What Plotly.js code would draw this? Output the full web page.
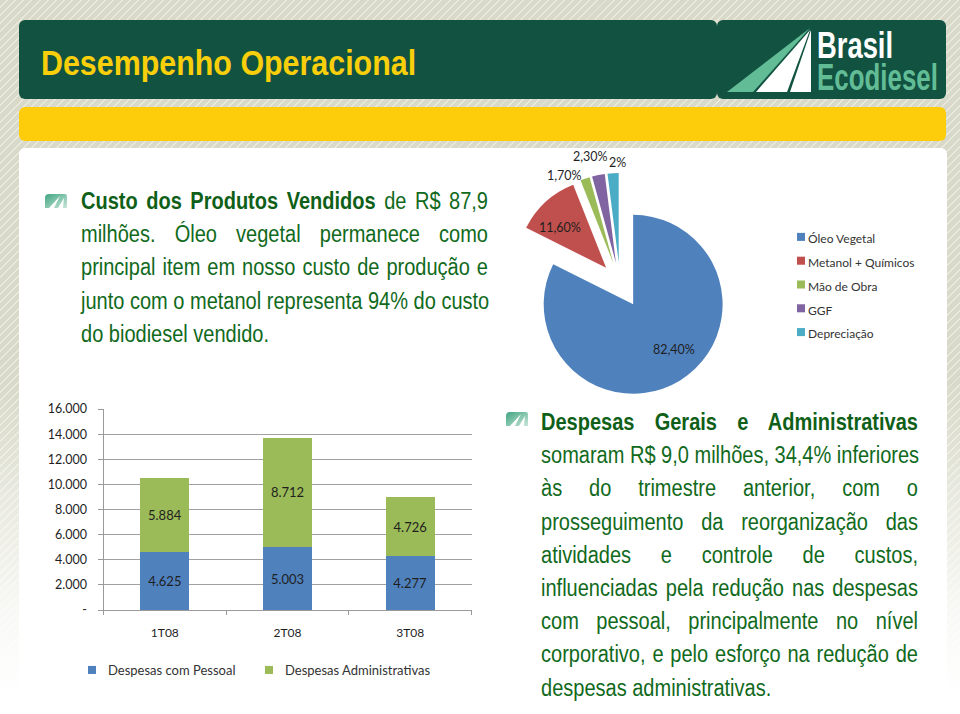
<!DOCTYPE html>
<html><head><meta charset="utf-8">
<script src="https://cdn.plot.ly/plotly-3.0.1.min.js"></script>
<style>
html,body{margin:0;padding:0;width:960px;height:714px;overflow:hidden;background:#fff}
#bg{position:absolute;left:0;top:0;width:960px;height:714px;background:repeating-linear-gradient(135deg,#d8d9c8 0 4.4px,#e9eadd 4.4px 5.8px)}
#fade{position:absolute;left:0;top:0;width:960px;height:714px;background:linear-gradient(to bottom,rgba(255,255,255,0) 0,rgba(255,255,255,0) 380px,rgba(255,255,255,.85) 620px,#fff 695px)}
.panel{position:absolute}
#h1{left:19px;top:20px;width:698px;height:79px;background:#115240;border-radius:6px}
#h2{left:717px;top:20px;width:229px;height:79px;background:#115240;border-radius:6px}
#yb{left:19px;top:107px;width:927px;height:34px;background:#fdcc0a;border-radius:6px}
#wh{left:19px;top:148px;width:928px;height:566px;background:#fff;border-radius:6px 6px 0 0}
#chart{position:absolute;left:0;top:0;width:960px;height:714px}
.para{position:absolute;font-family:"Liberation Sans",sans-serif;color:#116a1c;font-size:23px;transform:scaleX(.87);transform-origin:0 0}
.para div{height:33.2px;line-height:33.2px;text-align:justify;text-align-last:justify;white-space:nowrap}
.para div.l{text-align:left;text-align-last:left}
.para b{color:#0f5f18}
.bul{position:absolute}
#logo{position:absolute;left:717px;top:20px}
.gtitle{transform-origin:41px 62px;transform:scaleX(.845)}
.legend .scrollbox{clip-path:none !important}
.legend .legendpoints path{transform:translate(24px,0) scale(.67)}
.legend2 .legendpoints path{transform:translate(33px,0) scale(.67)}
</style></head><body>
<div id="bg"></div><div id="fade"></div>
<div class="panel" id="h1"></div><div class="panel" id="h2"></div><div class="panel" id="yb"></div><div class="panel" id="wh"></div>
<svg width="0" height="0" style="position:absolute"><defs><linearGradient id="bg1" x1="0" y1="0" x2="1" y2="1"><stop offset="0" stop-color="#3fa580"/><stop offset="1" stop-color="#c9e6da"/></linearGradient></defs></svg>
<svg class="bul" style="left:44px;top:193px" width="24" height="17" viewBox="0 0 24 17"><path d="M1 5Q1 1 5 1H21Q23 1 23 4V15H19L20 5 14 15H10L16 3 5 15H1Z" fill="url(#bg1)"/></svg>
<svg class="bul" style="left:505px;top:411px" width="24" height="17" viewBox="0 0 24 17"><path d="M1 5Q1 1 5 1H21Q23 1 23 4V15H19L20 5 14 15H10L16 3 5 15H1Z" fill="url(#bg1)"/></svg>
<div class="para" style="left:81px;top:185px;width:467.8px" id="p1"></div>
<div class="para" style="left:541px;top:406px;width:433.3px" id="p2"></div>
<svg id="logo" width="229" height="79" viewBox="0 0 229 79">
<polygon points="10,72 36,72 93,8" fill="#62bd97"/><polygon points="39,72 70,72 93,10" fill="#fff"/><polygon points="73,72 94,72 94,10" fill="#fff"/>
<text transform="translate(100,38) scale(.74,1)" font-family="'Liberation Sans',sans-serif" font-weight="700" font-size="37" fill="#fff">Brasil</text>
<text transform="translate(100,70) scale(.70,1)" font-family="'Liberation Sans',sans-serif" font-weight="700" font-size="37" fill="#62bd97">Ecodiesel</text>
</svg>
<div id="chart"></div>
<script>
const pageTitle = 'Desempenho Operacional';
const quarters = ['1T08','2T08','3T08'];
const pessoal = [4625,5003,4277];
const administrativas = [5884,8712,4726];
const pessoalLabels = ['4.625','5.003','4.277'];
const adminLabels = ['5.884','8.712','4.726'];
const yTickVals = [0,2000,4000,6000,8000,10000,12000,14000,16000];
const yTickText = ['-','2.000','4.000','6.000','8.000','10.000','12.000','14.000','16.000'];
const costItems = ['Óleo Vegetal','Metanol + Químicos','Mão de Obra','GGF','Depreciação'];
const costShares = [82.4,11.6,1.7,2.3,2];
const costLabels = ['82,40%','11,60%','1,70%','2,30%','2%'];
const costColors = ['#4f81bd','#c0504d','#9bbb59','#8064a2','#4bacc6'];
const costPull = [0.28,0.23,0.23,0.23,0.23];
const labelX = [674,560,564,590,617];
const labelY = [349,227,175,156,163];
const para1 = [['<b>Custo dos Produtos Vendidos</b> de R$ 87,9',0],['milhões. Óleo vegetal permanece como',0],['principal item em nosso custo de produção e',0],['junto com o metanol representa 94% do custo',0],['do biodiesel vendido.',1]];
const para2 = [['<b>Despesas Gerais e Administrativas</b>',0],['somaram R$ 9,0 milhões, 34,4% inferiores',0],['às do trimestre anterior, com o',0],['prosseguimento da reorganização das',0],['atividades e controle de custos,',0],['influenciadas pela redução nas despesas',0],['com pessoal, principalmente no nível',0],['corporativo, e pelo esforço na redução de',0],['despesas administrativas.',1]];
function fill(id,lines){document.getElementById(id).innerHTML=lines.map(l=>'<div'+(l[1]?' class="l"':'')+'>'+l[0]+'</div>').join('');}
fill('p1',para1);fill('p2',para2);

const W=960,H=714,F='Lato, sans-serif',TXT='#1f1f1f';
const px=(a,b)=>[a/W,b/W], py=(top,bot)=>[(H-bot)/H,(H-top)/H];
const barCommon={type:'bar',x:quarters,width:0.4,textposition:'inside',insidetextanchor:'middle',textangle:0,
  textfont:{family:F,size:13,color:TXT},hoverinfo:'skip',cliponaxis:false};
const traces=[
 Object.assign({},barCommon,{name:'Despesas com Pessoal',y:pessoal,text:pessoalLabels,marker:{color:'#4f81bd',line:{width:0}},legend:'legend'}),
 Object.assign({},barCommon,{name:'Despesas Administrativas',y:administrativas,text:adminLabels,marker:{color:'#9bbb59',line:{width:0}},legend:'legend'}),
 {type:'pie',labels:costItems.map(s=>'<span style="font-size:12px">'+s+'</span>'),values:costShares,textinfo:'none',
  sort:false,direction:'clockwise',rotation:0,pull:costPull,
  marker:{colors:costColors,line:{width:0}},automargin:false,
  domain:{x:px(505.5,734.5),y:py(168.5,397.5)},legend:'legend2',hoverinfo:'skip'}
];
const layout={width:W,height:H,margin:{l:0,r:0,t:0,b:0},paper_bgcolor:'rgba(0,0,0,0)',plot_bgcolor:'rgba(0,0,0,0)',
 font:{family:F,color:TXT},barmode:'stack',bargap:0.6,
 title:{text:'<b>'+pageTitle+'</b>',font:{family:'"Liberation Sans",sans-serif',size:36,color:'#f8cf0a'},x:41/W,xanchor:'left',y:1-62/H,yanchor:'middle',xref:'paper',yref:'paper',automargin:false},
 xaxis:{domain:px(103.5,471.5),type:'category',range:[-0.5,2.5],tickson:'boundaries',ticks:'outside',ticklen:4,tickcolor:'#9a9a9a',linecolor:'#9a9a9a',linewidth:1,showline:true,showgrid:false,tickfont:{family:F,size:12,color:TXT},ticklabelstandoff:12},
 yaxis:{domain:py(409,610),range:[0,16000],tickvals:yTickVals,ticktext:yTickText,ticks:'outside',ticklen:5,tickcolor:'#9a9a9a',linecolor:'#9a9a9a',linewidth:1,showline:true,gridcolor:'#a0a0a0',gridwidth:1,zeroline:false,tickfont:{family:F,size:12.5,color:TXT},ticklabelstandoff:8},
 showlegend:true,
 legend:{orientation:'h',traceorder:'normal',x:68/W,xanchor:'left',y:1-655/H,yanchor:'top',font:{family:F,size:13,color:'#333'},itemwidth:30,entrywidth:132,entrywidthmode:'pixels',bgcolor:'rgba(0,0,0,0)'},
 legend2:{x:768/W,xanchor:'left',y:1-220/H,yanchor:'top',font:{family:F,size:16,color:'#333'},itemwidth:30,bgcolor:'rgba(0,0,0,0)'},
 annotations:costLabels.map((t,i)=>({text:t,xref:'paper',yref:'paper',x:labelX[i]/W,y:1-labelY[i]/H,xanchor:'center',yanchor:'middle',showarrow:false,font:{family:F,size:12.5,color:TXT}}))
};
Plotly.newPlot('chart',traces,layout,{staticPlot:true,displayModeBar:false});
</script>
</body></html>
